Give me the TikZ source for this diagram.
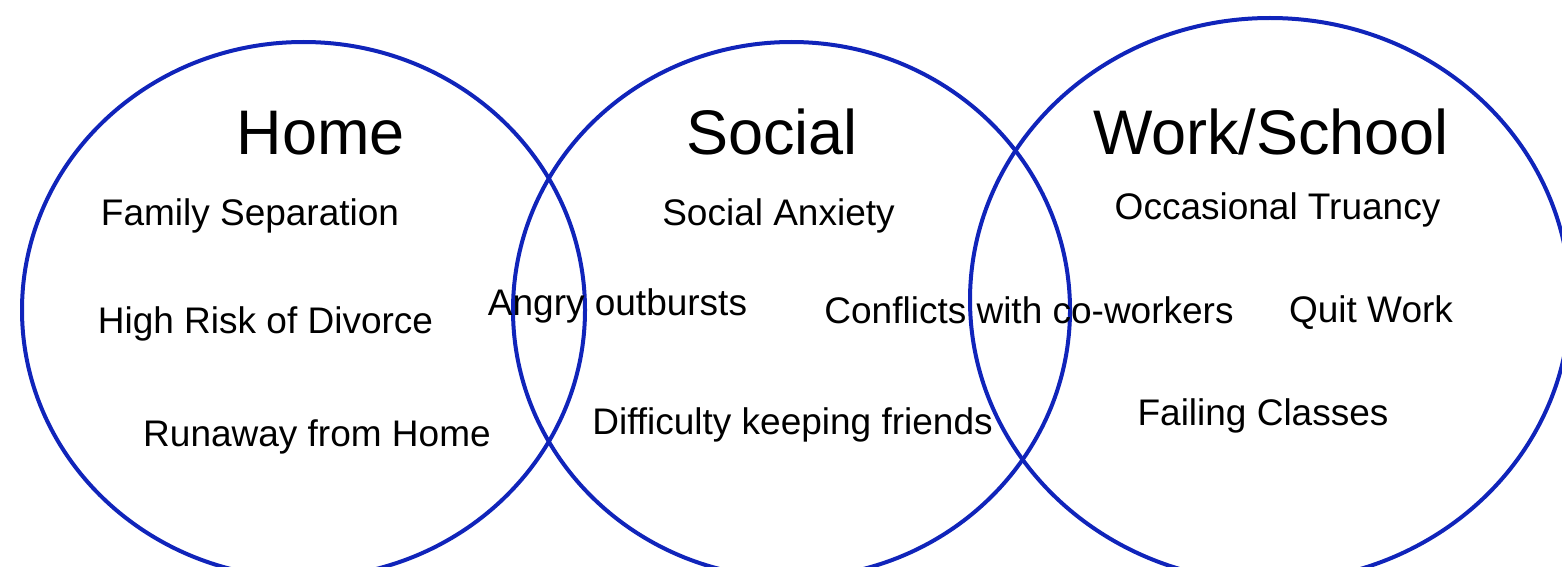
\documentclass[tikz,border=0pt]{standalone}
\usepackage{fontspec}
\setmainfont{Liberation Sans}
\definecolor{vennblue}{RGB}{16,36,186}
\begin{document}
\begin{tikzpicture}[x=0.5pt,y=-0.5pt,
  ring/.style={draw=vennblue,line width=2pt},
  title/.style={anchor=base,font=\fontsize{31.5pt}{36pt}\selectfont,inner sep=0pt},
  item/.style={anchor=base,font=\fontsize{18.5pt}{22pt}\selectfont,inner sep=0pt}]
\useasboundingbox (0,0) rectangle (1562,567);
\clip (0,0) rectangle (1562,567);
% the three overlapping areas
\draw[ring] (303.5,310) ellipse [x radius=140.75pt, y radius=134pt];
\draw[ring] (791.5,310) ellipse [x radius=139.25pt, y radius=134pt];
\draw[ring] (1270,300) ellipse [x radius=150pt, y radius=141pt];
% headings
\node[title] (home) at (321,155) {Home};
\node[title] (social) at (772,155) {Social};
\node[title] (work) at (1271,155) {Work/School};
% entries
\node[item] (famsep) at (250,225) {Family Separation};
\node[item] (anxiety) at (778.5,225) {Social Anxiety};
\node[item] (truancy) at (1277.5,219) {Occasional Truancy};
\node[item] (divorce) at (265.5,333) {High Risk of Divorce};
\node[item] (angry) at (617.5,315) {Angry outbursts};
\node[item] (conflicts) at (1029,323) {Conflicts with co-workers};
\node[item] (quit) at (1371,322) {Quit Work};
\node[item] (runaway) at (317,446) {Runaway from Home};
\node[item] (friends) at (792.5,434) {Difficulty keeping friends};
\node[item] (failing) at (1263,425) {Failing Classes};
\end{tikzpicture}
\end{document}
